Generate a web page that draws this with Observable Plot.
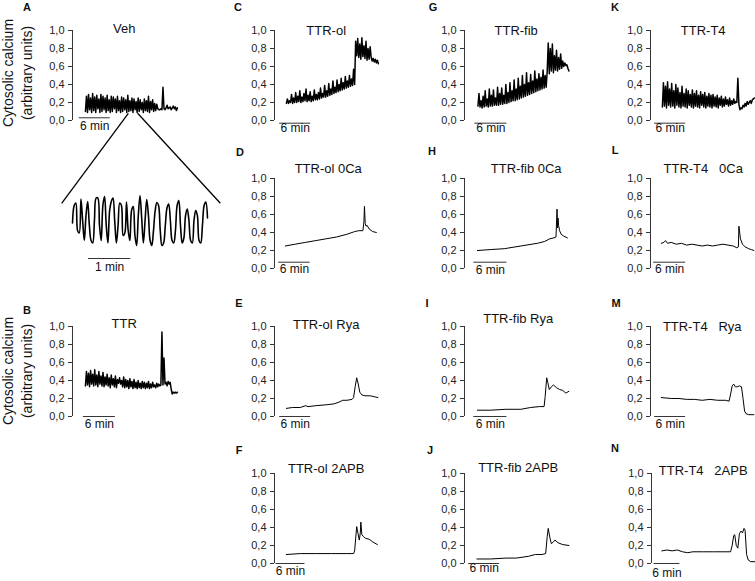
<!DOCTYPE html>
<html><head><meta charset="utf-8">
<script src="https://cdn.jsdelivr.net/npm/d3@7"></script>
<script src="https://cdn.jsdelivr.net/npm/@observablehq/plot@0.6"></script>
<style>
html,body{margin:0;padding:0;background:#fff;overflow:hidden;}
#fig{position:relative;width:755px;height:581px;font-family:"Liberation Sans",Arial,Helvetica,sans-serif;color:#111;}
.letter{position:absolute;font-weight:bold;font-size:11px;transform:translate(-50%,-50%);}
.ylab{position:absolute;font-size:14px;line-height:19px;text-align:center;white-space:nowrap;transform:translate(-50%,-50%) rotate(-90deg);}
</style></head><body><div id="fig"></div>
<script>
// ---------- tick labels ----------
const yTicks = [0, 0.2, 0.4, 0.6, 0.8, 1.0];
const yLabelLines = ["Cytosolic calcium", "(arbitrary units)"];

// ---------- dense traces (sampled every 0.2 min) ----------
const vehValues = [
0.10,0.27,0.09,0.29,0.12,0.25,0.09,0.30,0.11,0.26,
0.09,0.28,0.13,0.24,0.09,0.29,0.10,0.27,0.12,0.25,
0.09,0.28,0.11,0.23,0.09,0.27,0.10,0.26,0.13,0.24,
0.09,0.27,0.11,0.22,0.09,0.26,0.10,0.25,0.12,0.23,
0.09,0.28,0.10,0.22,0.11,0.25,0.09,0.24,0.12,0.21,
0.09,0.25,0.10,0.23,0.12,0.20,0.09,0.24,0.11,0.22,
0.10,0.27,0.09,0.21,0.12,0.23,0.10,0.19,0.11,0.18,
0.13,0.12,0.12,0.13,0.12,0.37,0.13,0.12,0.14,0.17,
0.13,0.14,0.15,0.12,0.14,0.16,0.13,0.15,0.11,0.14];
const ttrValues = [
0.34,0.50,0.35,0.48,0.33,0.51,0.36,0.47,0.34,0.52,
0.35,0.46,0.33,0.50,0.36,0.45,0.34,0.49,0.33,0.44,
0.35,0.47,0.34,0.43,0.32,0.46,0.35,0.42,0.33,0.45,
0.32,0.41,0.37,0.43,0.36,0.40,0.33,0.44,0.32,0.41,
0.33,0.40,0.31,0.42,0.33,0.39,0.31,0.41,0.32,0.38,
0.31,0.40,0.32,0.37,0.31,0.39,0.32,0.38,0.31,0.37,
0.32,0.39,0.31,0.36,0.32,0.38,0.33,0.35,0.32,0.37,
0.33,0.36,0.34,0.35,0.94,0.35,0.65,0.36,0.38,0.34,
0.39,0.36,0.38,0.30,0.25,0.27,0.26,0.27,0.26,0.27];
const olValues = [
0.19,0.24,0.19,0.22,0.20,0.29,0.19,0.25,0.20,0.31,
0.20,0.27,0.21,0.33,0.20,0.26,0.21,0.30,0.22,0.35,
0.21,0.28,0.22,0.32,0.21,0.27,0.22,0.34,0.23,0.29,
0.23,0.31,0.24,0.36,0.25,0.30,0.26,0.39,0.26,0.33,
0.27,0.41,0.28,0.35,0.29,0.44,0.30,0.37,0.31,0.45,
0.32,0.40,0.33,0.47,0.34,0.42,0.35,0.49,0.36,0.44,
0.37,0.50,0.38,0.46,0.39,0.57,
0.40,0.88,0.72,0.91,0.70,0.85,0.68,0.92,0.71,0.83,0.69,0.88,0.67,0.80,0.68,0.82,
0.70,0.66,0.69,0.65,0.68,0.64,0.67,0.63];
const fibValues = [
0.16,0.30,0.15,0.22,0.14,0.27,0.15,0.33,0.16,0.24,
0.15,0.35,0.16,0.28,0.16,0.34,0.17,0.25,0.17,0.37,
0.17,0.30,0.18,0.36,0.18,0.28,0.19,0.40,0.19,0.31,
0.20,0.42,0.21,0.33,0.22,0.45,0.22,0.35,0.23,0.47,
0.24,0.38,0.25,0.50,0.26,0.40,0.27,0.53,0.28,0.42,
0.29,0.51,0.30,0.44,0.31,0.55,0.32,0.46,0.33,0.52,
0.34,0.48,0.35,0.56,0.36,0.50,0.37,
0.55,0.86,0.52,0.80,0.55,0.85,0.53,0.72,0.56,0.78,0.55,0.70,0.57,0.74,
0.58,0.66,0.60,0.64,0.61,0.62,0.58,0.55];
const t4Values = [
0.15,0.42,0.16,0.38,0.14,0.43,0.17,0.35,0.15,0.41,
0.16,0.33,0.14,0.40,0.17,0.36,0.15,0.31,0.14,0.38,
0.16,0.30,0.15,0.35,0.14,0.33,0.17,0.29,0.15,0.34,
0.14,0.30,0.16,0.33,0.15,0.28,0.14,0.32,0.17,0.29,
0.15,0.31,0.14,0.27,0.16,0.30,0.15,0.28,0.14,0.29,
0.16,0.26,0.15,0.28,0.14,0.25,0.17,0.27,0.15,0.24,
0.16,0.26,0.18,0.23,0.16,0.25,0.17,0.22,0.18,0.24,
0.19,0.21,
0.20,0.47,0.18,0.12,0.14,0.13,0.17,0.15,0.19,0.16,0.21,0.18,0.20,0.22,0.19,0.23,0.24,0.25];

// ---------- inset (zoom of Veh) ----------
const insetValues = [
0.45,0.80,0.85,0.30,0.25,0.93,0.50,0.10,0.60,0.88,
0.40,0.10,0.05,0.50,0.95,0.95,0.40,0.10,0.80,0.98,
0.40,0.05,0.70,0.88,0.95,0.50,0.05,0.40,0.85,0.80,
0.20,0.25,0.87,0.30,0.10,0.70,0.78,0.20,0.00,0.60,
1.00,0.55,0.05,0.50,0.92,0.60,0.10,0.00,0.30,0.70,
0.86,0.80,0.30,0.00,0.05,0.40,0.75,0.83,0.50,0.10,
0.05,0.30,0.80,0.90,0.40,0.05,0.15,0.60,0.73,0.50,
0.10,0.05,0.50,0.70,0.60,0.10,0.05,0.40,0.80,0.87,0.55];

// ---------- smooth traces (time in min, value) ----------
const olCaTimes  = [2.1,4,6,8,10,12,14,15.5,16.3,17.1,17.3,17.4,17.55,17.7,17.9,18.3,19.0,19.7];
const olCaValues = [0.25,0.27,0.29,0.31,0.33,0.35,0.38,0.41,0.42,0.42,0.52,0.69,0.50,0.47,0.48,0.44,0.41,0.40];
const olRyaTimes  = [2.3,3.5,5.0,6.0,6.5,8,10,11.5,12.5,13.2,14.0,15.0,15.3,15.6,15.9,16.2,16.5,16.9,17.5,18.5,19.3,20.0];
const olRyaValues = [0.09,0.10,0.10,0.12,0.11,0.12,0.13,0.14,0.16,0.18,0.18,0.19,0.21,0.33,0.43,0.36,0.27,0.24,0.23,0.23,0.22,0.21];
const olApbTimes  = [2.3,5,8,11,14,15.3,15.5,15.9,16.1,16.4,16.6,16.7,16.9,17.2,17.6,18.3,19.0,19.9];
const olApbValues = [0.10,0.11,0.11,0.11,0.11,0.11,0.14,0.41,0.35,0.26,0.34,0.46,0.32,0.30,0.28,0.27,0.24,0.21];
const fibCaTimes  = [2.5,5,7.7,10.9,14.1,15.5,16.5,17.3,17.7,17.9,18.0,18.1,18.2,18.4,18.7,19.2,19.9];
const fibCaValues = [0.20,0.21,0.22,0.25,0.28,0.30,0.33,0.34,0.35,0.66,0.45,0.56,0.48,0.42,0.38,0.36,0.34];
const fibRyaTimes  = [2.5,5,8,10.9,12.8,14.5,15.4,15.6,15.9,16.1,16.4,16.8,17.2,17.8,18.4,19.0,19.6,20.2];
const fibRyaValues = [0.07,0.07,0.08,0.08,0.10,0.11,0.11,0.22,0.43,0.38,0.30,0.33,0.35,0.32,0.30,0.29,0.26,0.28];
const fibApbTimes  = [2.4,5,8,10,12.4,13.7,15.0,15.7,16.0,16.2,16.5,16.8,17.2,17.5,18.1,19.0,20.2];
const fibApbValues = [0.05,0.05,0.06,0.06,0.08,0.10,0.10,0.11,0.30,0.39,0.29,0.22,0.24,0.26,0.23,0.21,0.20];
const t4CaTimes  = [2.1,2.6,2.9,3.3,4.0,5.0,6.0,7.0,8.0,9.0,10.0,11.0,12.0,13.0,14.0,15.0,16.0,16.7,17.0,17.1,17.4,17.8,18.3,19.0,19.5,20.0];
const t4CaValues = [0.28,0.29,0.31,0.28,0.29,0.27,0.28,0.26,0.27,0.26,0.25,0.26,0.25,0.26,0.27,0.26,0.25,0.23,0.24,0.47,0.33,0.27,0.24,0.22,0.21,0.20];
const t4RyaTimes  = [2.1,4,5.5,7,8.5,10,11.5,13,14.5,15.2,15.5,15.8,16.1,16.4,16.8,17.2,17.6,17.9,18.2,18.5,19.0,20.0];
const t4RyaValues = [0.21,0.20,0.20,0.19,0.19,0.18,0.19,0.18,0.18,0.17,0.25,0.34,0.36,0.33,0.33,0.34,0.33,0.20,0.06,0.03,0.02,0.02];
const t4ApbTimes  = [2.0,3.0,4.0,5.0,6.0,7.0,8.0,10.0,12.0,14.0,15.3,15.6,15.9,16.1,16.4,16.7,17.0,17.3,17.6,17.9,18.1,18.4,18.7,19.2,20.0];
const t4ApbValues = [0.14,0.15,0.14,0.15,0.13,0.12,0.13,0.13,0.13,0.13,0.13,0.20,0.31,0.32,0.20,0.17,0.33,0.36,0.34,0.39,0.37,0.10,0.04,0.02,0.02];

// zoom connector lines (Veh panel coordinates: min, units)
const insetLinks = [
  {x1: 10.8, y1: 0.08, x2: -2.1, y2: -0.92},
  {x1: 12.6, y1: 0.08, x2: 28.6, y2: -0.92}
];

// ---------- helpers ----------
const sampled = (values, start, step) => values.map((v, i) => ({t: start + i * step, v}));
const paired = (times, values) => times.map((t, i) => ({t, v: values[i]}));
const fmt = d => d.toFixed(1).replace(".", ",");
const FONT = "'Liberation Sans', Arial, Helvetica, sans-serif";

const panels = [
  {letter:"A", title:"Veh",          ax:72,    top:30,  tdy:-2,  tdx:0,  bar:[1.3,7.3], barY:0.03,  textDy:4, lx:27,  ly:7,   sw:1.5, data: sampled(vehValues, 2.5, 0.2), links:true},
  {letter:"B", title:"TTR",          ax:72,    top:326, tdy:-3,  tdx:0,  bar:[2.1,8.3], barY:0,     textDy:3, lx:27,  ly:310, sw:1.5, data: sampled(ttrValues, 2.5, 0.2)},
  {letter:"C", title:"TTR-ol",       ax:274,   top:30,  tdy:0,   tdx:0,  bar:[1.0,7.0], barY:-0.03, textDy:0, lx:238, ly:7,   sw:1.5, data: sampled(olValues, 2.3, 0.2)},
  {letter:"D", title:"TTR-ol 0Ca",   ax:274,   top:178, tdy:-10, tdx:2,  bar:[0.8,6.9], barY:0.07,  textDy:2, lx:240, ly:152, sw:1, data: paired(olCaTimes, olCaValues)},
  {letter:"E", title:"TTR-ol Rya",   ax:274,   top:326, tdy:-2,  tdx:0,  bar:[1.0,7.0], barY:0,     textDy:3, lx:239, ly:303, sw:1, data: paired(olRyaTimes, olRyaValues)},
  {letter:"F", title:"TTR-ol 2APB",  ax:273.5, top:473, tdy:-5,  tdx:0,  bar:[0.3,5.9], barY:0,     textDy:3, lx:239, ly:450, sw:1, data: paired(olApbTimes, olApbValues)},
  {letter:"G", title:"TTR-fib",      ax:463.5, top:30,  tdy:0,   tdx:0,  bar:[2.0,8.2], barY:-0.03, textDy:0, lx:433, ly:7,   sw:1.5, data: sampled(fibValues, 2.6, 0.2)},
  {letter:"H", title:"TTR-fib 0Ca",  ax:463.5, top:178, tdy:-10, tdx:10, bar:[1.8,8.2], barY:0.07,  textDy:3, lx:432, ly:151, sw:1, data: paired(fibCaTimes, fibCaValues)},
  {letter:"I", title:"TTR-fib Rya",  ax:463.5, top:326, tdy:-8,  tdx:2,  bar:[1.8,8.2], barY:0,     textDy:3, lx:427, ly:303, sw:1, data: paired(fibRyaTimes, fibRyaValues)},
  {letter:"J", title:"TTR-fib 2APB", ax:464,   top:473, tdy:-6,  tdx:2,  bar:[0.8,6.8], barY:0,     textDy:0, lx:430, ly:450, sw:1, data: paired(fibApbTimes, fibApbValues)},
  {letter:"K", title:"TTR-T4",       ax:650,   top:30,  tdy:0,   tdx:1,  bar:[0.8,6.8], barY:-0.03, textDy:0, lx:615, ly:7,   sw:1.5, data: sampled(t4Values, 2.3, 0.2)},
  {letter:"L", title:"TTR-T4   0Ca", ax:650,   top:178, tdy:-10, tdx:1,  bar:[0.6,6.8], barY:0.07,  textDy:2, lx:615, ly:150, sw:1, data: paired(t4CaTimes, t4CaValues)},
  {letter:"M", title:"TTR-T4   Rya", ax:650,   top:326, tdy:0,   tdx:0,  bar:[0.8,6.8], barY:0,     textDy:3, lx:616, ly:303, sw:1, data: paired(t4RyaTimes, t4RyaValues)},
  {letter:"N", title:"TTR-T4   2APB",ax:650.5, top:473, tdy:-3,  tdx:0,  bar:[0.5,5.5], barY:0,     textDy:5, lx:615, ly:448, sw:1, data: paired(t4ApbTimes, t4ApbValues)}
];

const fig = document.getElementById("fig");
const PXMIN = 5.17, ML = 50, MT = 40, MR = 10, MB = 30, PW = 20 * PXMIN, PH = 90;

for (const p of panels) {
  const marks = [
    Plot.axisY({ticks: yTicks, tickFormat: fmt, tickSize: 4, tickPadding: 4, label: null, stroke: "#333", fill: "#222", fontSize: 11}),
    Plot.ruleX([0], {y1: 0, y2: 1, stroke: "#333"}),
    Plot.line(p.data, {x: "t", y: "v", stroke: "#000", strokeWidth: p.sw}),
    Plot.ruleY([p.barY], {x1: p.bar[0], x2: p.bar[1], stroke: "#333"}),
    Plot.text(["6 min"], {x: (p.bar[0] + p.bar[1]) / 2, y: p.barY, lineAnchor: "top", dy: p.textDy, fontSize: 12, fill: "#111"}),
    Plot.text([p.title], {frameAnchor: "top", dx: p.tdx, dy: p.tdy, lineAnchor: "middle", fontSize: 13, fill: "#111"})
  ];
  if (p.links) marks.push(Plot.link(insetLinks, {x1: "x1", y1: "y1", x2: "x2", y2: "y2", stroke: "#000", strokeWidth: 1.3}));
  const svg = Plot.plot({
    width: ML + PW + MR, height: MT + PH + MB,
    marginLeft: ML, marginTop: MT, marginRight: MR, marginBottom: MB,
    style: {background: "transparent", overflow: "visible", fontFamily: FONT, fontSize: "11px"},
    x: {domain: [0, 20], range: [ML, ML + PW], axis: null},
    y: {domain: [0, 1], range: [MT + PH, MT]},
    marks
  });
  svg.style.position = "absolute";
  svg.style.left = (p.ax - ML) + "px";
  svg.style.top = (p.top - MT) + "px";
  svg.style.maxWidth = "none";
  fig.appendChild(svg);

  const L = document.createElement("div");
  L.className = "letter";
  L.textContent = p.letter;
  L.style.left = p.lx + "px";
  L.style.top = p.ly + "px";
  fig.appendChild(L);
}

// inset
const insetData = sampled(insetValues, 0, 0.04);
const insetSvg = Plot.plot({
  width: 160, height: 100, marginLeft: 12, marginRight: 13, marginTop: 15, marginBottom: 35,
  style: {background: "transparent", overflow: "visible", fontFamily: FONT},
  x: {domain: [0, d3.max(insetData, d => d.t)], axis: null},
  y: {domain: [0, 1], axis: null},
  marks: [
    Plot.line(insetData, {x: "t", y: "v", stroke: "#000", strokeWidth: 1.6, curve: "catmull-rom"}),
    Plot.ruleY([-0.26], {x1: 0.38, x2: 1.38, stroke: "#333"}),
    Plot.text(["1 min"], {x: 0.88, y: -0.26, lineAnchor: "top", dy: 4, fontSize: 12, fill: "#111"})
  ]
});
insetSvg.style.position = "absolute";
insetSvg.style.left = "60px";
insetSvg.style.top = "180px";
insetSvg.style.maxWidth = "none";
fig.appendChild(insetSvg);

// y-axis labels for A and B
for (const cy of [73, 371]) {
  const d = document.createElement("div");
  d.className = "ylab";
  d.innerHTML = yLabelLines.join("<br>");
  d.style.left = "18px";
  d.style.top = cy + "px";
  fig.appendChild(d);
}
</script>
</body></html>
